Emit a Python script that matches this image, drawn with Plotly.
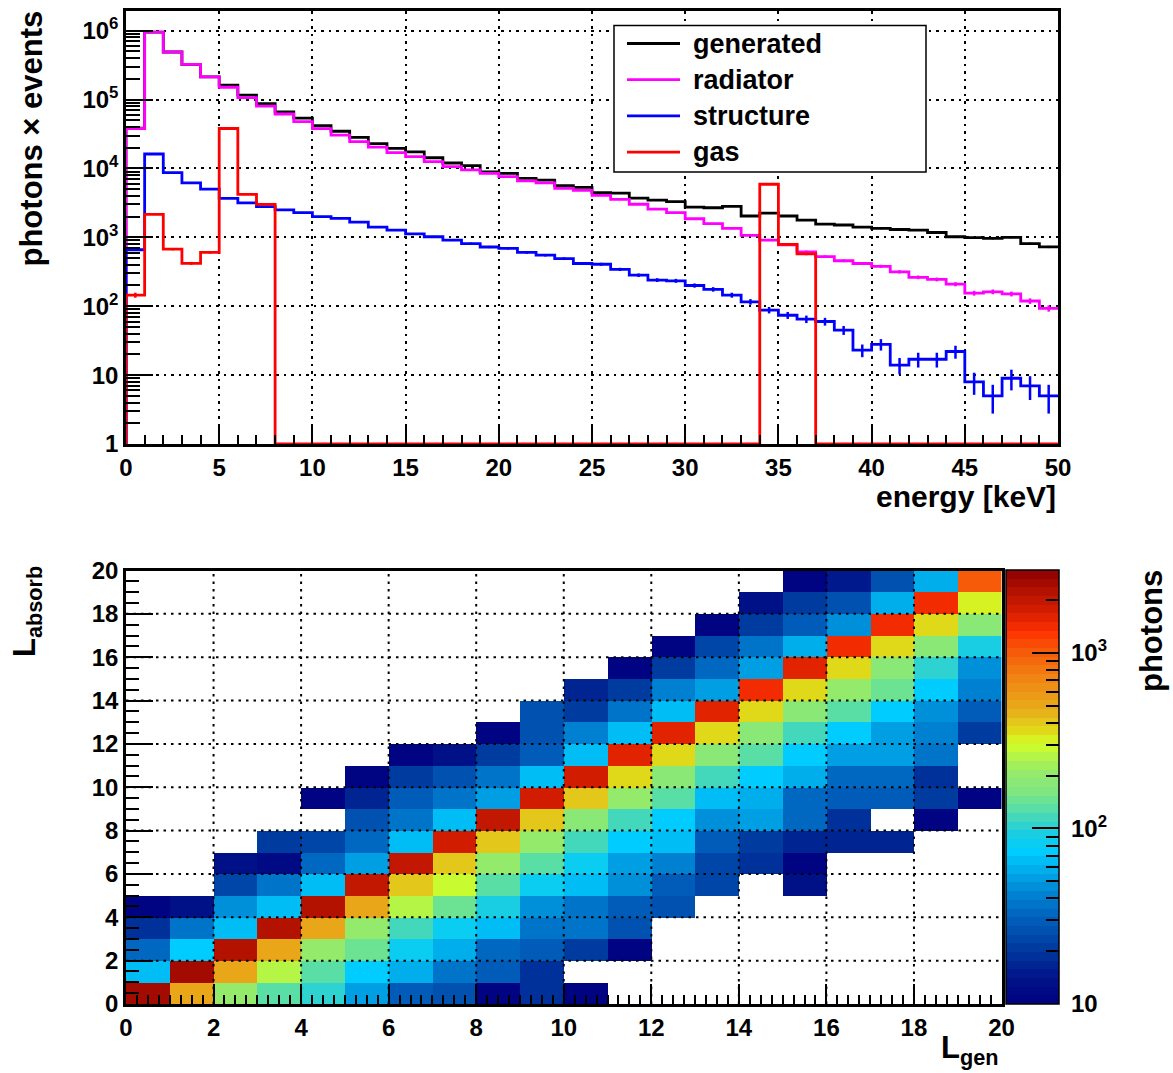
import math
import plotly.graph_objects as go

# ---------------- data: top panel (photon energy spectra, 1 keV bins) ----------------
energy_edges_keV = list(range(0, 51))

generated = [38500, 955000, 490000, 324000, 214000, 162000, 116000, 87000, 66000, 53700,
             41700, 34700, 28200, 22900, 19500, 17400, 14300, 12000, 11000, 8900,
             8500, 7180, 6760, 5620, 5310, 4470, 4370, 3720, 3470, 3310,
             2750, 2690, 2820, 2040, 2240, 2040, 1780, 1550, 1510, 1410,
             1350, 1300, 1270, 1175, 1020, 990, 965, 1000, 810, 725]

radiator = [38000, 955000, 490000, 324000, 214000, 151000, 107000, 80400, 61700, 47900,
            37800, 30500, 24500, 20400, 17000, 14800, 12600, 10600, 9550, 8500,
            7590, 6610, 6170, 5130, 4790, 4070, 3550, 3020, 2570, 2290,
            1860, 1580, 1350, 1070, 912, 776, 617, 525, 457, 417,
            380, 316, 263, 245, 209, 155, 162, 151, 119, 93]

structure = [660, 16200, 8700, 6170, 5010, 3670, 3160, 2790, 2510, 2290,
             2000, 1880, 1660, 1410, 1270, 1120, 1020, 912, 813, 724,
             692, 603, 550, 490, 417, 407, 343, 282, 240, 234,
             200, 176, 145, 116, 88, 74, 65, 60, 45, 23,
             28, 14, 17, 17, 22, 8, 5, 9, 7, 5]

gas = [145, 2150, 675, 420, 605, 38000, 4200, 3000, 0, 0,
       0, 0, 0, 0, 0, 0, 0, 0, 0, 0,
       0, 0, 0, 0, 0, 0, 0, 0, 0, 0,
       0, 0, 0, 0, 5900, 790, 575, 0, 0, 0,
       0, 0, 0, 0, 0, 0, 0, 0, 0, 0]

series_names = ["generated", "radiator", "structure", "gas"]
series_colors = ["#000000", "#ff00ff", "#0000ff", "#ff0000"]

top_x_ticks = [0, 5, 10, 15, 20, 25, 30, 35, 40, 45, 50]
top_y_ticks = [1, 10, 100, 1000, 10000, 100000, 1000000]
top_y_ticktext = ["1", "10", "10<sup>2</sup>", "10<sup>3</sup>", "10<sup>4</sup>",
                  "10<sup>5</sup>", "10<sup>6</sup>"]
top_y_min, top_y_max = 1, 1.93e6

# ---------------- data: bottom panel (L_absorb vs L_gen, photons) ----------------
L_edges = list(range(0, 21))
# one list per L_gen bin; entries are L_absorb = 0..19
photons_by_Lgen = [
    [2630, 62, 33, 18, 11, 0, 0, 0, 0, 0, 0, 0, 0, 0, 0, 0, 0, 0, 0, 0],
    [506, 2500, 73, 37, 13, 0, 0, 0, 0, 0, 0, 0, 0, 0, 0, 0, 0, 0, 0, 0],
    [216, 506, 2350, 62, 45, 23, 14, 0, 0, 0, 0, 0, 0, 0, 0, 0, 0, 0, 0, 0],
    [129, 256, 506, 2350, 62, 37, 12, 20, 0, 0, 0, 0, 0, 0, 0, 0, 0, 0, 0, 0],
    [103, 129, 216, 506, 2350, 62, 33, 23, 0, 11, 0, 0, 0, 0, 0, 0, 0, 0, 0, 0],
    [52, 73, 145, 216, 506, 2090, 55, 33, 25, 17, 11, 0, 0, 0, 0, 0, 0, 0, 0, 0],
    [29, 60, 81, 115, 256, 426, 2090, 62, 37, 29, 20, 11, 0, 0, 0, 0, 0, 0, 0, 0],
    [25, 37, 58, 81, 145, 285, 426, 1880, 62, 37, 25, 13, 0, 0, 0, 0, 0, 0, 0, 0],
    [11, 29, 33, 68, 92, 129, 216, 426, 2090, 55, 37, 22, 11, 0, 0, 0, 0, 0, 0, 0],
    [19, 19, 29, 37, 47, 81, 129, 216, 426, 1880, 62, 31, 25, 25, 0, 0, 0, 0, 0, 0],
    [11, 0, 20, 37, 37, 68, 81, 118, 192, 426, 1880, 62, 41, 20, 17, 0, 0, 0, 0, 0],
    [0, 0, 11, 27, 31, 45, 52, 73, 110, 216, 380, 1600, 62, 39, 21, 11, 0, 0, 0, 0],
    [0, 0, 0, 0, 25, 29, 41, 62, 73, 129, 192, 380, 1600, 62, 41, 20, 11, 0, 0, 0],
    [0, 0, 0, 0, 0, 23, 23, 31, 49, 68, 110, 192, 380, 1670, 55, 33, 23, 11, 0, 0],
    [0, 0, 0, 0, 0, 0, 18, 20, 55, 57, 73, 129, 192, 380, 1410, 55, 39, 20, 14, 0],
    [0, 0, 0, 0, 0, 14, 11, 17, 33, 33, 57, 73, 110, 192, 380, 1670, 57, 29, 21, 11],
    [0, 0, 0, 0, 0, 0, 0, 17, 18, 29, 33, 52, 73, 135, 216, 360, 1410, 45, 25, 15],
    [0, 0, 0, 0, 0, 0, 0, 17, 0, 29, 33, 52, 52, 73, 145, 192, 380, 1450, 57, 25],
    [0, 0, 0, 0, 0, 0, 0, 0, 11, 20, 18, 37, 41, 49, 73, 103, 192, 380, 1450, 57],
    [0, 0, 0, 0, 0, 0, 0, 0, 0, 11, 0, 0, 21, 31, 41, 47, 92, 192, 320, 1060],
]
bottom_ticks = [0, 2, 4, 6, 8, 10, 12, 14, 16, 18, 20]
z_min, z_max = 10, 2970
cbar_major = [10, 100, 1000]
cbar_major_text = ["\u00a010", "\u00a010<sup>2</sup>", "\u00a010<sup>3</sup>"]

# ---------------- styling ----------------
W, H = 1173, 1073
FONT = "Liberation Sans"


def px_x(p):
    return p / W


def px_y(p):
    return 1 - p / H


def bold(size):
    return dict(family=FONT, size=size, color="black", weight="bold")


# ROOT-like rainbow palette, 50 discrete levels
anchors = [(0.00, (0, 0, 128)), (0.06, (0, 20, 138)), (0.13, (0, 59, 160)),
           (0.19, (0, 92, 184)), (0.25, (0, 128, 209)), (0.30, (0, 166, 230)),
           (0.35, (0, 204, 255)), (0.385, (20, 204, 230)), (0.42, (56, 212, 199)),
           (0.45, (89, 222, 166)), (0.49, (128, 230, 128)), (0.54, (153, 235, 102)),
           (0.60, (210, 255, 38)), (0.63, (224, 217, 26)), (0.68, (232, 171, 26)),
           (0.75, (240, 133, 20)), (0.82, (247, 84, 8)), (0.855, (255, 51, 0)),
           (0.90, (217, 31, 0)), (0.95, (179, 18, 0)), (1.00, (140, 0, 0))]


def interp_color(t):
    for (t0, c0), (t1, c1) in zip(anchors[:-1], anchors[1:]):
        if t0 <= t <= t1:
            f = (t - t0) / (t1 - t0)
            return "rgb(%d,%d,%d)" % tuple(round(a + (b - a) * f) for a, b in zip(c0, c1))
    return "rgb(%d,%d,%d)" % anchors[-1][1]


NLEV = 50
colorscale = []
for i in range(NLEV):
    c = interp_color((i + 0.5) / NLEV)
    colorscale.append([i / NLEV, c])
    colorscale.append([(i + 1) / NLEV, c])

fig = go.Figure()

# ---------------- top panel traces ----------------
centers = [(a + b) / 2 for a, b in zip(energy_edges_keV[:-1], energy_edges_keV[1:])]
for name, vals, col in zip(series_names, [generated, radiator, structure, gas], series_colors):
    shown = [max(v, top_y_min) for v in vals]
    xs = [energy_edges_keV[0]] + energy_edges_keV
    ys = [top_y_min] + shown + [shown[-1]]
    fig.add_trace(go.Scatter(x=xs, y=ys, mode="lines", name=name, showlegend=False,
                             line=dict(color=col, width=2.8, shape="hv"),
                             xaxis="x", yaxis="y", hoverinfo="skip"))
    fig.add_trace(go.Scatter(x=centers, y=[v if v > 0 else None for v in vals],
                             mode="markers", showlegend=False, name=name + " errors",
                             marker=dict(size=2, color=col, opacity=0),
                             error_y=dict(type="data", array=[math.sqrt(v) for v in vals],
                                          color=col, thickness=2.5, width=0),
                             xaxis="x", yaxis="y", hoverinfo="skip"))

# ---------------- bottom panel traces ----------------
z_counts = [list(row) for row in zip(*photons_by_Lgen)]  # rows = L_absorb
z_log = [[math.log10(v) if v > 0 else None for v in row] for row in z_counts]
cb_common = dict(x=px_x(1006), xanchor="left", xpad=0, y=px_y(1004), yanchor="bottom", ypad=0,
                 len=(1004 - 570.5) / H, lenmode="fraction", thickness=53, thicknessmode="pixels",
                 ticks="inside", tickcolor="black")
minor_cb = [m * 10 ** d for d in (1, 2, 3) for m in range(2, 10) if m * 10 ** d < z_max]
fig.add_trace(go.Heatmap(x=L_edges, y=L_edges, z=z_log, zmin=math.log10(z_min),
                         zmax=math.log10(z_max), colorscale=colorscale, zsmooth=False,
                         xaxis="x2", yaxis="y2", hoverinfo="skip",
                         colorbar=dict(**cb_common, outlinewidth=1.5, outlinecolor="black",
                                       tickmode="array", tickvals=[math.log10(v) for v in minor_cb],
                                       ticklen=13, tickwidth=1.5, showticklabels=False)))
fig.add_trace(go.Heatmap(x=L_edges, y=L_edges, z=z_log, zmin=math.log10(z_min),
                         zmax=math.log10(z_max),
                         colorscale=[[0, "rgba(0,0,0,0)"], [1, "rgba(0,0,0,0)"]],
                         xaxis="x2", yaxis="y2", hoverinfo="skip",
                         colorbar=dict(**cb_common, outlinewidth=0, tickmode="array",
                                       tickvals=[math.log10(v) for v in cbar_major],
                                       ticktext=cbar_major_text, ticklen=27, tickwidth=1.5,
                                       tickfont=bold(24))))

# ---------------- axes ----------------
grid = dict(showgrid=True, gridcolor="black", gridwidth=2, griddash="2.5px,5px")
frame = dict(showline=True, linecolor="black", linewidth=2.5, mirror=True, zeroline=False,
             ticks="inside", tickcolor="black", tickwidth=2, tickfont=bold(24))

fig.update_layout(
    width=W, height=H, template="none",
    margin=dict(l=0, r=0, t=0, b=0, pad=0),
    paper_bgcolor="white", plot_bgcolor="white",
    showlegend=False,
    xaxis=dict(domain=[px_x(126), px_x(1058)], anchor="y", range=[0, 50],
               tickmode="array", tickvals=top_x_ticks, ticklen=19,
               minor=dict(ticks="inside", dtick=1, ticklen=9, tickwidth=2, tickcolor="black",
                          showgrid=False),
               **grid, **frame),
    yaxis=dict(domain=[px_y(444), px_y(11)], anchor="x", type="log",
               range=[math.log10(top_y_min), math.log10(top_y_max)],
               tickmode="array", tickvals=top_y_ticks, ticktext=top_y_ticktext, ticklen=27,
               minor=dict(ticks="inside", tickmode="array",
                          tickvals=[m * 10 ** d for d in range(0, 6) for m in range(2, 10)],
                          ticklen=14, tickwidth=2, tickcolor="black", showgrid=False),
               **grid, **frame),
    xaxis2=dict(domain=[px_x(126), px_x(1001.5)], anchor="y2", range=[0, 20],
                tickmode="array", tickvals=bottom_ticks, ticklen=20, showgrid=False,
                minor=dict(ticks="inside", dtick=0.25, ticklen=9, tickwidth=2,
                           tickcolor="black", showgrid=False),
                **frame),
    yaxis2=dict(domain=[px_y(1004), px_y(570.5)], anchor="x2", range=[0, 20],
                tickmode="array", tickvals=bottom_ticks, ticklen=27, showgrid=False,
                minor=dict(ticks="inside", dtick=0.5, ticklen=13, tickwidth=2,
                           tickcolor="black", showgrid=False),
                **frame),
)

# dotted grid drawn over the 2D histogram (as ROOT does)
dot_line = dict(color="black", width=2, dash="2.5px,5px")
for t in bottom_ticks[1:-1]:
    fig.add_shape(type="line", xref="x2", yref="y2", x0=t, x1=t,
                  y0=L_edges[0], y1=L_edges[-1], line=dot_line, layer="above")
    fig.add_shape(type="line", xref="x2", yref="y2", y0=t, y1=t,
                  x0=L_edges[0], x1=L_edges[-1], line=dot_line, layer="above")

# ---------------- legend box (ROOT TLegend style) ----------------
fig.add_shape(type="rect", xref="paper", yref="paper", x0=px_x(614), x1=px_x(926),
              y0=px_y(172), y1=px_y(25.5), fillcolor="white",
              line=dict(color="black", width=1.5), layer="above")
for i, (name, col) in enumerate(zip(series_names, series_colors)):
    yy = 43.5 + 36.2 * i
    fig.add_shape(type="line", xref="paper", yref="paper", x0=px_x(627), x1=px_x(680),
                  y0=px_y(yy), y1=px_y(yy), line=dict(color=col, width=2.8), layer="above")
    fig.add_annotation(text=name, xref="paper", yref="paper", x=px_x(691), y=px_y(yy),
                       xanchor="left", yanchor="middle", showarrow=False, font=bold(27))

# ---------------- axis titles ----------------
fig.add_annotation(text="energy [keV]", xref="paper", yref="paper", x=px_x(1058), y=px_y(496),
                   xanchor="right", yanchor="middle", showarrow=False, font=bold(30))
fig.add_annotation(text="photons × events", xref="paper", yref="paper", x=px_x(31),
                   y=px_y(138.5), textangle=-90, xanchor="center", yanchor="middle",
                   showarrow=False, font=bold(31))
fig.add_annotation(text="L<sub>absorb</sub>", xref="paper", yref="paper", x=px_x(27),
                   y=px_y(612), textangle=-90, xanchor="center", yanchor="middle",
                   showarrow=False, font=bold(31))
fig.add_annotation(text="L<sub>gen</sub>", xref="paper", yref="paper", x=px_x(1001),
                   y=px_y(1050), xanchor="right", yanchor="middle", showarrow=False,
                   font=bold(31))
fig.add_annotation(text="photons", xref="paper", yref="paper", x=px_x(1151), y=px_y(631),
                   textangle=-90, xanchor="center", yanchor="middle", showarrow=False,
                   font=bold(31))

fig.write_html("out.html")
